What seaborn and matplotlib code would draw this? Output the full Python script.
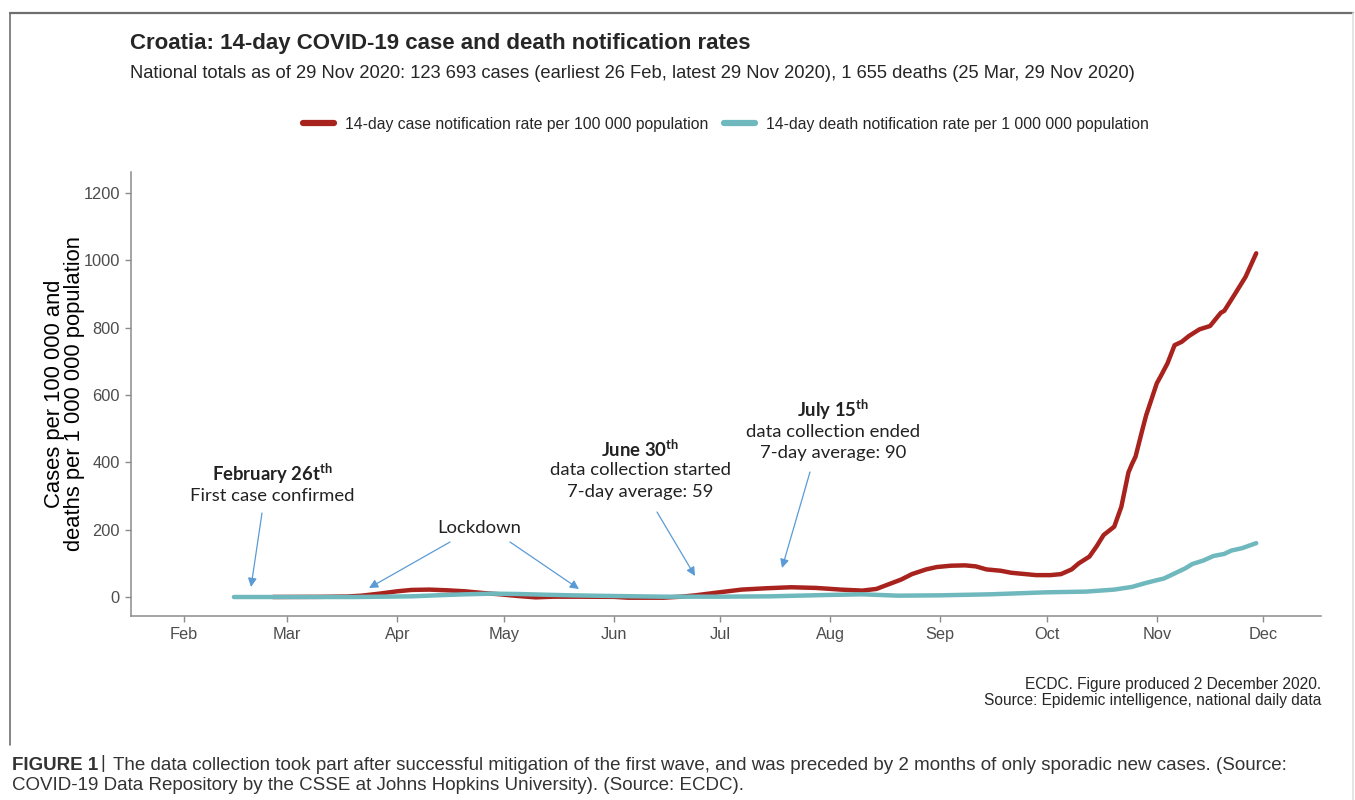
import pandas as pd
import seaborn as sns
import matplotlib.pyplot as plt
import matplotlib.dates as mdates
from matplotlib.lines import Line2D

# Data (2020)
case_dates = ['2020-02-26', '2020-03-10', '2020-03-18', '2020-03-22', '2020-03-27', '2020-04-01',
              '2020-04-05', '2020-04-10', '2020-04-15', '2020-04-20', '2020-04-25', '2020-04-30',
              '2020-05-05', '2020-05-10', '2020-05-15', '2020-05-22', '2020-06-01', '2020-06-05',
              '2020-06-15', '2020-06-20', '2020-06-24', '2020-06-30', '2020-07-07', '2020-07-14',
              '2020-07-21', '2020-07-28', '2020-08-04', '2020-08-10', '2020-08-14', '2020-08-17',
              '2020-08-21', '2020-08-24', '2020-08-28', '2020-08-31', '2020-09-04', '2020-09-08',
              '2020-09-11', '2020-09-14', '2020-09-18', '2020-09-21', '2020-09-25', '2020-09-28',
              '2020-10-02', '2020-10-05', '2020-10-08', '2020-10-10', '2020-10-13', '2020-10-15',
              '2020-10-17', '2020-10-20', '2020-10-22', '2020-10-24', '2020-10-25', '2020-10-26',
              '2020-10-28', '2020-10-29', '2020-11-01', '2020-11-02', '2020-11-04', '2020-11-06',
              '2020-11-08', '2020-11-10', '2020-11-13', '2020-11-16', '2020-11-19', '2020-11-20',
              '2020-11-23', '2020-11-26', '2020-11-29']
case_rate = [0.1, 0.5, 1.5, 4, 10, 17,
             21, 22, 20, 17, 12, 8,
             3, -1, 1, 1, 0.5, -2,
             -2, 1, 5, 13, 22, 26,
             29, 27, 22, 19, 24, 36,
             52, 68, 82, 89, 93, 94,
             91, 82, 78, 72, 68, 65,
             65, 68, 82, 100, 120, 150,
             184, 209, 268, 370, 395, 417,
             500, 540, 635, 654, 694, 748,
             758, 775, 795, 805, 844, 850,
             900, 951, 1021]

death_dates = ['2020-02-15', '2020-03-20', '2020-03-28', '2020-04-05', '2020-04-12', '2020-04-20',
               '2020-04-28', '2020-05-05', '2020-05-12', '2020-05-20', '2020-06-01', '2020-06-15',
               '2020-06-30', '2020-07-15', '2020-07-31', '2020-08-10', '2020-08-20', '2020-09-01',
               '2020-09-15', '2020-10-01', '2020-10-12', '2020-10-20', '2020-10-25', '2020-10-29',
               '2020-11-01', '2020-11-03', '2020-11-06', '2020-11-09', '2020-11-11', '2020-11-14',
               '2020-11-17', '2020-11-20', '2020-11-22', '2020-11-25', '2020-11-29']
death_rate = [0, 0, 1, 2, 5, 8,
              10, 9, 7, 5, 3, 1,
              1, 2, 6, 8, 4, 5,
              8, 14, 16, 22, 30, 42,
              50, 55, 70, 85, 98, 108,
              122, 128, 138, 145, 160]

case_label = '14-day case notification rate per 100 000 population'
death_label = '14-day death notification rate per 1 000 000 population'

df = pd.concat([
    pd.DataFrame({'date': pd.to_datetime(case_dates), 'rate': case_rate, 'series': case_label}),
    pd.DataFrame({'date': pd.to_datetime(death_dates), 'rate': death_rate, 'series': death_label}),
])

sns.set_theme(style='white')
plt.rcParams['font.family'] = ['Liberation Sans', 'DejaVu Sans']
plt.rcParams['mathtext.fontset'] = 'custom'
plt.rcParams['mathtext.rm'] = 'Lato'
plt.rcParams['mathtext.bf'] = 'Lato:bold'

W, H = 1355, 800
fig = plt.figure(figsize=(W / 100, H / 100), dpi=100)
ax = fig.add_axes([131 / W, 1 - 616 / H, (1321 - 131) / W, (616 - 172) / H])

def fp(x, y):
    # pixel position (from top-left) -> figure fraction
    return (x / W, 1 - y / H)

colors = {case_label: '#A8231D', death_label: '#6FB8BD'}
sns.lineplot(data=df, x='date', y='rate', hue='series', palette=colors, linewidth=3.2,
             legend=False, ax=ax, estimator=None, sort=True)

ax.set_xlim(pd.Timestamp('2020-01-17'), pd.Timestamp('2020-12-17 06:00'))
ax.set_ylim(-56.4, 1262.4)
ax.set_yticks([0, 200, 400, 600, 800, 1000, 1200])
ax.xaxis.set_major_locator(mdates.MonthLocator())
ax.xaxis.set_major_formatter(mdates.DateFormatter('%b'))
ax.set_xlabel('')
ax.set_ylabel('Cases per 100 000 and\ndeaths per 1 000 000 population', fontsize=15.8,
              color='black', labelpad=-1, linespacing=0.92)
for s in ['top', 'right']:
    ax.spines[s].set_visible(False)
for s in ['left', 'bottom']:
    ax.spines[s].set_color('#8c8c8c')
    ax.spines[s].set_linewidth(1.1)
ax.tick_params(axis='both', which='major', length=4, width=1, color='#8c8c8c',
               labelsize=11.8, labelcolor='#4d4d4d', direction='out', bottom=True, left=True, pad=4)

# legend
handles = [Line2D([], [], color=colors[case_label], lw=4.5),
           Line2D([], [], color=colors[death_label], lw=4.5)]
fig.legend(handles, [case_label, death_label], loc='center', bbox_to_anchor=fp(726, 124),
           ncol=2, frameon=False, fontsize=11.3, handlelength=2.0, handletextpad=0.7,
           columnspacing=1.0)

# titles
fig.text(*fp(130, 43), 'Croatia: 14-day COVID-19 case and death notification rates',
         fontsize=16, fontweight='bold', ha='left', va='center')
fig.text(*fp(130, 74), 'National totals as of 29 Nov 2020: 123 693 cases (earliest 26 Feb, '
         'latest 29 Nov 2020), 1 655 deaths (25 Mar, 29 Nov 2020)',
         fontsize=13.2, ha='left', va='center')

# annotations
ann = dict(family='Lato', fontsize=13.3, color='#222222', ha='center', va='center')
fig.text(*fp(272, 474), r'February 26t$^{\mathbf{th}}$', fontweight='bold', **ann)
fig.text(*fp(272, 496), 'First case confirmed', **ann)
fig.text(*fp(479, 528), 'Lockdown', **ann)
fig.text(*fp(640, 449), r'June 30$^{\mathbf{th}}$', fontweight='bold', **ann)
fig.text(*fp(640, 470), 'data collection started', **ann)
fig.text(*fp(640, 492), '7-day average: 59', **ann)
fig.text(*fp(833, 410), r'July 15$^{\mathbf{th}}$', fontweight='bold', **ann)
fig.text(*fp(833, 432), 'data collection ended', **ann)
fig.text(*fp(833, 453), '7-day average: 90', **ann)

arrow = dict(arrowstyle='-|>', color='#5B9BD5', lw=0.9, mutation_scale=13, shrinkA=0, shrinkB=0)
for start, end in [((262, 513), (251, 587)), ((450, 542), (369, 588)), ((510, 542), (579, 589)),
                   ((657, 512), (695, 576)), ((810, 472), (782, 568))]:
    ax.annotate('', xy=fp(*end), xytext=fp(*start), xycoords='figure fraction',
                textcoords='figure fraction', arrowprops=arrow)

# footer
fig.text(*fp(1321, 684), 'ECDC. Figure produced 2 December 2020.', fontsize=11.2, ha='right', va='center')
fig.text(*fp(1321, 701), 'Source: Epidemic intelligence, national daily data', fontsize=11.2,
         ha='right', va='center')

# frame around the figure panel
fig.add_artist(Line2D([10 / W, 1353 / W], [1 - 13 / H, 1 - 13 / H], color='#6e6e6e', lw=1.6))
fig.add_artist(Line2D([10 / W, 10 / W], [1 - 13 / H, 1 - 745 / H], color='#6e6e6e', lw=1.2))
fig.add_artist(Line2D([1353 / W, 1353 / W], [1 - 13 / H, 0], color='#e0e0e0', lw=1.2))

# caption
cap = dict(fontsize=13.5, color='#333333', va='center')
fig.text(*fp(12, 765), 'FIGURE 1', fontweight='bold', ha='left', **cap)
fig.text(*fp(103, 764), '|', ha='center', **cap)
fig.text(*fp(113, 765), 'The data collection took part after successful mitigation of the first wave, '
         'and was preceded by 2 months of only sporadic new cases. (Source:', ha='left', **cap)
fig.text(*fp(12, 786), 'COVID-19 Data Repository by the CSSE at Johns Hopkins University). (Source: ECDC).',
         ha='left', **cap)

fig.savefig('out.png', dpi=100)
